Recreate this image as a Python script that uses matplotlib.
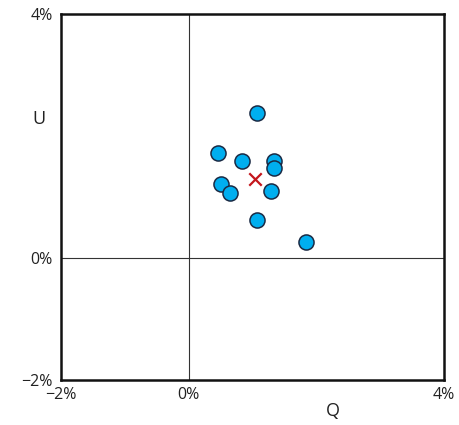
import matplotlib
matplotlib.use("Agg")
import matplotlib.pyplot as plt
from matplotlib.ticker import FuncFormatter

plt.rcParams['font.family'] = ['Open Sans', 'DejaVu Sans']

q_vals = [1.07, 0.46, 0.84, 1.34, 1.33, 0.51, 0.64, 1.29, 1.07, 1.84]
u_vals = [2.38, 1.72, 1.59, 1.59, 1.47, 1.22, 1.06, 1.10, 0.63, 0.27]
mean_q = [1.04]
mean_u = [1.29]
x_ticks = [-2, 0, 4]
y_ticks = [-2, 0, 4]

fig = plt.figure(figsize=(4.6, 4.25), dpi=100)
ax = fig.add_axes([61/460, 1-380/425, 383/460, 366/425])
ax.set_xlim(-2, 4)
ax.set_ylim(-2, 4)
ax.axvline(0, color='#333333', lw=0.8, zorder=1)
ax.axhline(0, color='#333333', lw=0.8, zorder=1)
ax.scatter(q_vals, u_vals, s=118, facecolor='#00AEEF', edgecolor='#1a2a44', linewidth=1.1, zorder=3)
ax.scatter(mean_q, mean_u, marker='x', s=80, color='#C4161C', linewidth=1.6, zorder=4)

fmt = FuncFormatter(lambda v, p: ('\u2212' if v < 0 else '') + f'{abs(int(v))}%')
ax.set_xticks(x_ticks)
ax.set_yticks(y_ticks)
ax.xaxis.set_major_formatter(fmt)
ax.yaxis.set_major_formatter(fmt)
ax.tick_params(length=0, labelsize=11.5, colors='#222222')
ax.tick_params(axis='x', pad=5)
ax.tick_params(axis='y', pad=6)
for s in ax.spines.values():
    s.set_linewidth(1.8)
    s.set_color('#111111')

fig.text(333/460, 1-411/425, 'Q', ha='center', va='center', fontsize=13, color='#222222')
fig.text(39/460, 1-119/425, 'U', ha='center', va='center', fontsize=13, color='#222222')

fig.savefig('out.png', dpi=100)
